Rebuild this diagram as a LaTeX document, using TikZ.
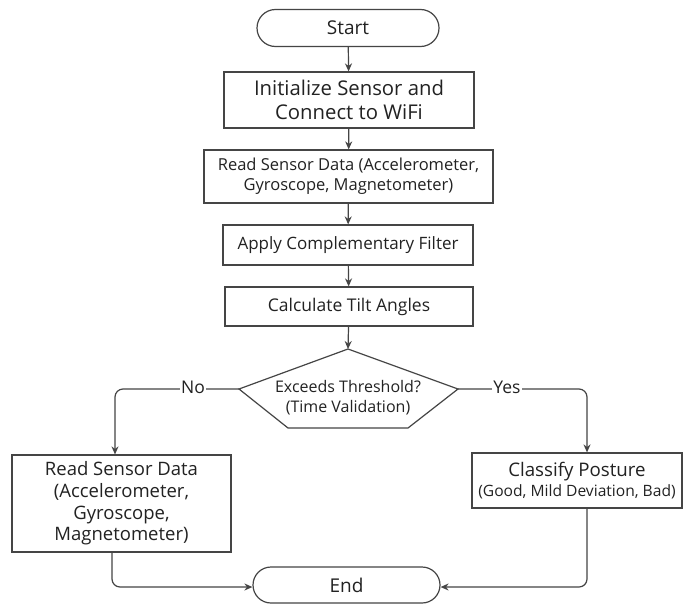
\documentclass[tikz,border=0pt]{standalone}
\usepackage{fontspec}
\setmainfont{Open Sans}
\usetikzlibrary{arrows.meta,shapes.misc}
\definecolor{ln}{HTML}{454545}
\definecolor{tx}{HTML}{222222}
\tikzset{
  box/.style={draw=ln,line width=1.2pt,fill=white,align=center,text=tx,inner sep=0pt,font=\fontsize{16.5}{20}\selectfont},
  term/.style={draw=ln,line width=1.2pt,rounded rectangle,fill=white,text=tx,inner sep=0pt,font=\fontsize{19}{22}\selectfont},
  arr/.style={draw=ln,line width=1.2pt,-{Stealth[length=8pt,width=7pt]}},
  lab/.style={text=tx,font=\fontsize{17.5}{20}\selectfont,fill=white,inner sep=1pt},
}
\begin{document}
\begin{tikzpicture}[x=1pt,y=-1pt]
\useasboundingbox (0,0) rectangle (684,605);
\fill[white] (0,0) rectangle (684,605);
\node[term,minimum width=182pt,minimum height=37pt] (start) at (348,28) {Start};
\node[box,minimum width=250pt,minimum height=56pt,font=\fontsize{20.3}{24}\selectfont] (init) at (349,100) {Initialize Sensor and\\Connect to WiFi};
\node[box,minimum width=289pt,minimum height=53pt] (read) at (348.5,176.5) {Read Sensor Data (Accelerometer,\\Gyroscope, Magnetometer)};
\node[box,minimum width=250pt,minimum height=40pt,font=\fontsize{17}{20}\selectfont] (apply) at (348,245) {Apply Complementary Filter};
\node[box,minimum width=248pt,minimum height=39pt,font=\fontsize{17.5}{20}\selectfont] (calc) at (349,306.5) {Calculate Tilt Angles};
\coordinate (dt) at (348,349);
\coordinate (dl) at (239,389);
\coordinate (dbl) at (288,428);
\coordinate (dbr) at (408,428);
\coordinate (dr) at (458,389);
\draw[ln,line width=1.2pt,fill=white] (dt) -- (dr) -- (dbr) -- (dbl) -- (dl) -- cycle;
\node[align=center,text=tx,font=\fontsize{16}{20}\selectfont] (dec) at (348,398) {Exceeds Threshold?\\(Time Validation)};
\node[box,minimum width=219pt,minimum height=97pt,font=\fontsize{18.5}{21.7}\selectfont] (left) at (121.5,503.5) {Read Sensor Data\\(Accelerometer,\\Gyroscope,\\Magnetometer)};
\node[box,minimum width=210pt,minimum height=55pt] (class) at (577,480.5) {{\fontsize{18.7}{22}\selectfont Classify Posture}\\{\fontsize{15.6}{21}\selectfont (Good, Mild Deviation, Bad)}};
\node[term,minimum width=187pt,minimum height=36pt] (end) at (346.5,585) {End};
\draw[arr] (start) -- (init);
\draw[arr] (init) -- (read);
\draw[arr] (read) -- (apply);
\draw[arr] (apply) -- (calc);
\draw[arr] (calc) -- (dt);
\draw[arr,rounded corners=8pt] (dl) -- (115,389) -- (left.north -| 115,0);
\node[lab] (no) at (193,387) {No};
\draw[arr,rounded corners=8pt] (dr) -- (587,389) -- (class.north -| 587,0);
\node[lab] (yes) at (507,387) {Yes};
\draw[arr,rounded corners=8pt] (left.south -| 112,0) -- (112,587) -- (end.west |- 0,587);
\draw[arr,rounded corners=8pt] (class.south -| 587,0) -- (587,587) -- (end.east |- 0,587);
\end{tikzpicture}
\end{document}
